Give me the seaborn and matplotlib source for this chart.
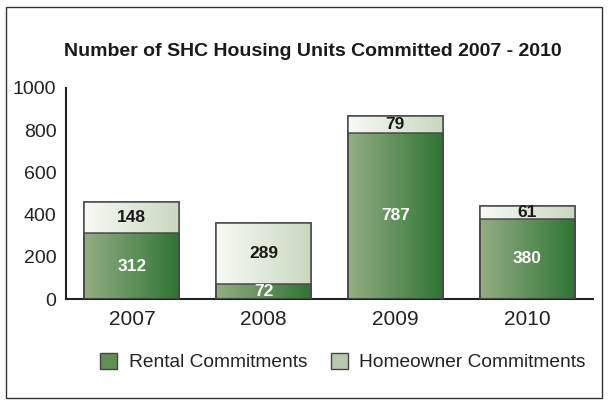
import numpy as np
import pandas as pd
import seaborn as sns
import matplotlib.pyplot as plt
from matplotlib.patches import Rectangle
from matplotlib.colors import LinearSegmentedColormap

# Unidades SHC comprometidas 2007 - 2010

years = ['2007', '2008', '2009', '2010']
rental = [312, 72, 787, 380]
homeowner = [148, 289, 79, 61]

df = pd.DataFrame({'year': years, 'rental': rental, 'homeowner': homeowner})
df['total'] = df['rental'] + df['homeowner']

sns.set_style('white')
plt.rcParams['font.family'] = ['Liberation Sans', 'DejaVu Sans']

fig = plt.figure(figsize=(6.08, 4.05), dpi=100)
ax = fig.add_axes([66 / 608, 1 - 299 / 405, 527 / 608, 211 / 405])

sns.barplot(data=df, x='year', y='total', color='#e0e8d8', width=0.72,
            edgecolor='#555555', linewidth=1.2, ax=ax, saturation=1)
sns.barplot(data=df, x='year', y='rental', color='#5a8a50', width=0.72,
            edgecolor='#444444', linewidth=1.2, ax=ax, saturation=1)

cm_home = LinearSegmentedColormap.from_list('home', ['#f8faf5', '#c9d8c0'])
cm_rent = LinearSegmentedColormap.from_list('rent', ['#94ad84', '#2f7535'])
grad = np.linspace(0, 1, 256).reshape(1, -1)

n = len(years)
for i, p in enumerate(ax.patches):
    cmap = cm_home if i < n else cm_rent
    x0, y0 = p.get_x(), p.get_y()
    w, h = p.get_width(), p.get_height()
    im = ax.imshow(grad, cmap=cmap, aspect='auto', extent=[x0, x0 + w, y0, y0 + h],
                   zorder=p.get_zorder() + 0.1 * (i >= n) + 0.01)
    im.set_clip_path(p)
    edge = Rectangle((x0, y0), w, h, facecolor='none', edgecolor='#4a4a4a',
                     linewidth=1.1, zorder=5)
    ax.add_patch(edge)

for i in range(n):
    r, hmo = rental[i], homeowner[i]
    ax.text(i, r / 2, str(r), ha='center', va='center', color='white',
            fontsize=12.5, fontweight='bold', zorder=6)
    ax.text(i, r + hmo / 2, str(hmo), ha='center', va='center', color='#1a1a1a',
            fontsize=12.5, fontweight='bold', zorder=6)

ax.set_xlim(-0.5, 3.5)
ax.set_ylim(0, 1000)
ax.set_yticks([0, 200, 400, 600, 800, 1000])
ax.set_xlabel('')
ax.set_ylabel('')
sns.despine(ax=ax)
for s in ['left', 'bottom']:
    ax.spines[s].set_color('#222222')
    ax.spines[s].set_linewidth(1.5)
ax.tick_params(axis='y', direction='in', length=6, width=1.5, color='#222222',
               labelsize=14, labelcolor='#222222', pad=7)
ax.tick_params(axis='x', which='major', length=0, labelsize=15, labelcolor='#222222', pad=8)
ax.set_xticks(np.arange(-0.5, 4, 1), minor=True)
ax.tick_params(axis='x', which='minor', direction='in', length=5, width=1.5, color='#222222')

fig.text(313 / 608, 1 - 52 / 405, 'Number of SHC Housing Units Committed 2007 - 2010',
         ha='center', va='center', fontsize=14, fontweight='bold', color='#1a1a1a')

handles = [Rectangle((0, 0), 1, 1, facecolor='#5f8f55', edgecolor='#444444'),
           Rectangle((0, 0), 1, 1, facecolor='#b8c9ae', edgecolor='#444444')]
fig.legend(handles, ['Rental Commitments', 'Homeowner Commitments'], loc='center',
           bbox_to_anchor=(343 / 608, 1 - 362 / 405), ncol=2, frameon=False,
           fontsize=13.8, handlelength=0.9, handleheight=0.9, columnspacing=1.2,
           handletextpad=0.6, labelcolor='#222222')

fig.patches.append(Rectangle((6 / 608, 7 / 405), 596 / 608, 391 / 405, transform=fig.transFigure,
                             fill=False, edgecolor='#333333', linewidth=1.0))

fig.savefig('out.png', dpi=100)
